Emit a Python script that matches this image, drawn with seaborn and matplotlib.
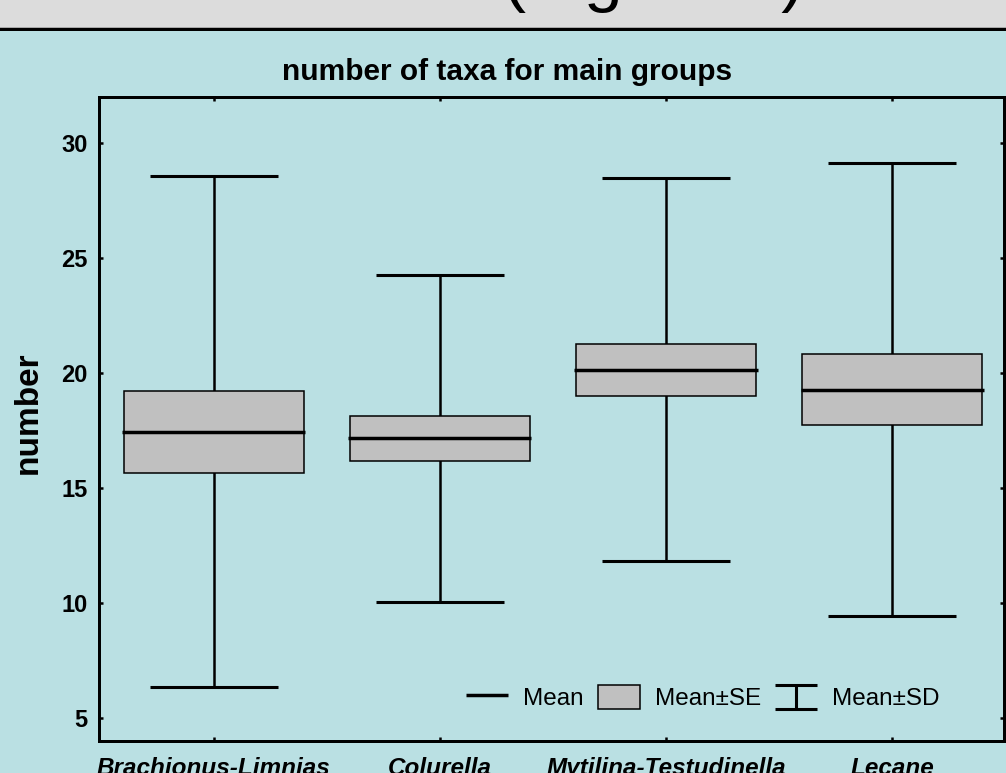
import matplotlib
matplotlib.use("Agg")
import matplotlib.pyplot as plt
import seaborn as sns
import pandas as pd
import numpy as np
from matplotlib.lines import Line2D
from matplotlib.patches import Patch, Rectangle
from matplotlib.legend_handler import HandlerBase

# ---- data ----
groups = ["Brachionus-Limnias", "Colurella", "Mytilina-Testudinella", "Lecane"]
means = [17.44, 17.16, 20.14, 19.28]
se = [1.77, 0.98, 1.14, 1.56]
sd = [11.11, 7.10, 8.33, 9.83]
yticks = [5, 10, 15, 20, 25, 30]
title = "number of taxa for main groups"
ylabel = "number"
legend_labels = ["Mean", "Mean±SE", "Mean±SD"]

sns.set_theme(style="ticks")
plt.rcParams["font.family"] = ["Liberation Sans", "DejaVu Sans"]
plt.rcParams["text.color"] = "black"
plt.rcParams["axes.labelcolor"] = "black"
plt.rcParams["xtick.color"] = "black"
plt.rcParams["ytick.color"] = "black"

BG = "#bae0e3"
W, H = 1006, 773
fig = plt.figure(figsize=(W / 100, H / 100), dpi=100, facecolor=BG)

# header band
fig.patches.append(Rectangle((0, 1 - 27 / H), 1, 27 / H, transform=fig.transFigure,
                             facecolor="#dcdcdc", edgecolor="none", zorder=0))
fig.patches.append(Rectangle((0, 1 - 28 / H), 1, 1 / H, transform=fig.transFigure,
                             facecolor="#a8a8a8", edgecolor="none", zorder=0))
fig.patches.append(Rectangle((0, 1 - 31 / H), 1, 3 / H, transform=fig.transFigure,
                             facecolor="black", edgecolor="none", zorder=0))
fig.text(503 / W, 1 + 1 / H, "(Figure 2)", fontsize=50, ha="left", va="baseline",
         color="black")

ax = fig.add_axes([99 / W, 1 - 741 / H, 905 / W, 644 / H])
ax.set_facecolor(BG)

df = pd.DataFrame({"group": groups, "mean": means, "se": se, "sd": sd})
df["low"] = df["mean"] - df["se"]
df["height"] = 2 * df["se"]

sns.barplot(data=df, x="group", y="height", bottom=df["low"].to_numpy(), order=groups,
            width=0.795, color="#c0c0c0", saturation=1, edgecolor="black",
            linewidth=1.1, errorbar=None, zorder=3, ax=ax)

xpos = np.arange(len(groups))
ax.errorbar(xpos, df["mean"], yerr=df["sd"], fmt="none", ecolor="black",
            elinewidth=1.8, capsize=46, capthick=2.2, zorder=2)
ax.hlines(df["mean"], xpos - 0.405, xpos + 0.405, colors="black", linewidth=2.5, zorder=4)

ax.set_xlim(-0.508, 3.495)
ax.set_ylim(4, 32)
ax.set_yticks(yticks)
ax.set_yticklabels([str(t) for t in yticks], fontsize=17, fontweight="bold", color="black")
ax.set_xticks(xpos)
ax.set_xticklabels(groups, fontsize=17.5, fontweight="bold", fontstyle="italic",
                   color="black")
ax.tick_params(axis="both", direction="in", length=3, width=1.8, colors="black",
               top=True, right=True)
ax.tick_params(axis="y", pad=8.3)
ax.tick_params(axis="x", pad=11.5)
ax.grid(False)
for s in ax.spines.values():
    s.set_visible(True)
    s.set_linewidth(2.16)
    s.set_color("black")

ax.set_xlabel("")
ax.set_ylabel(ylabel, fontsize=24, fontweight="bold", color="black")
ax.yaxis.set_label_coords(-0.061, 0.51)

fig.text(507 / W, 1 - 80 / H, title, fontsize=21.5, fontweight="bold",
         ha="center", va="baseline", color="black")


class HandlerIBeam(HandlerBase):
    def create_artists(self, legend, orig_handle, xdescent, ydescent, width, height,
                       fontsize, trans):
        x0 = -xdescent
        x1 = x0 + width
        xm = (x0 + x1) / 2
        y0 = -ydescent
        y1 = y0 + height
        arts = [Line2D([x0, x1], [y0, y0]), Line2D([x0, x1], [y1, y1]),
                Line2D([xm, xm], [y0, y1])]
        for a in arts:
            a.set_color("black")
            a.set_linewidth(2.2)
            a.set_solid_capstyle("butt")
            a.set_transform(trans)
        return arts


h_mean = Line2D([], [], color="black", linewidth=2.5, solid_capstyle="butt")
h_se = Patch(facecolor="#c0c0c0", edgecolor="black", linewidth=1.1)
h_sd = Line2D([], [], color="black")
leg = ax.legend([h_mean, h_se, h_sd], legend_labels, handler_map={h_sd: HandlerIBeam()},
                ncol=3, frameon=False, fontsize=17.5, handlelength=1.72, handleheight=1.15,
                handletextpad=0.62, columnspacing=0.6, borderpad=0, borderaxespad=0,
                loc="center right", bbox_to_anchor=(0.929, 0.068))
for t in leg.get_texts():
    t.set_color("black")

fig.savefig("out.png", dpi=100, facecolor=BG)
